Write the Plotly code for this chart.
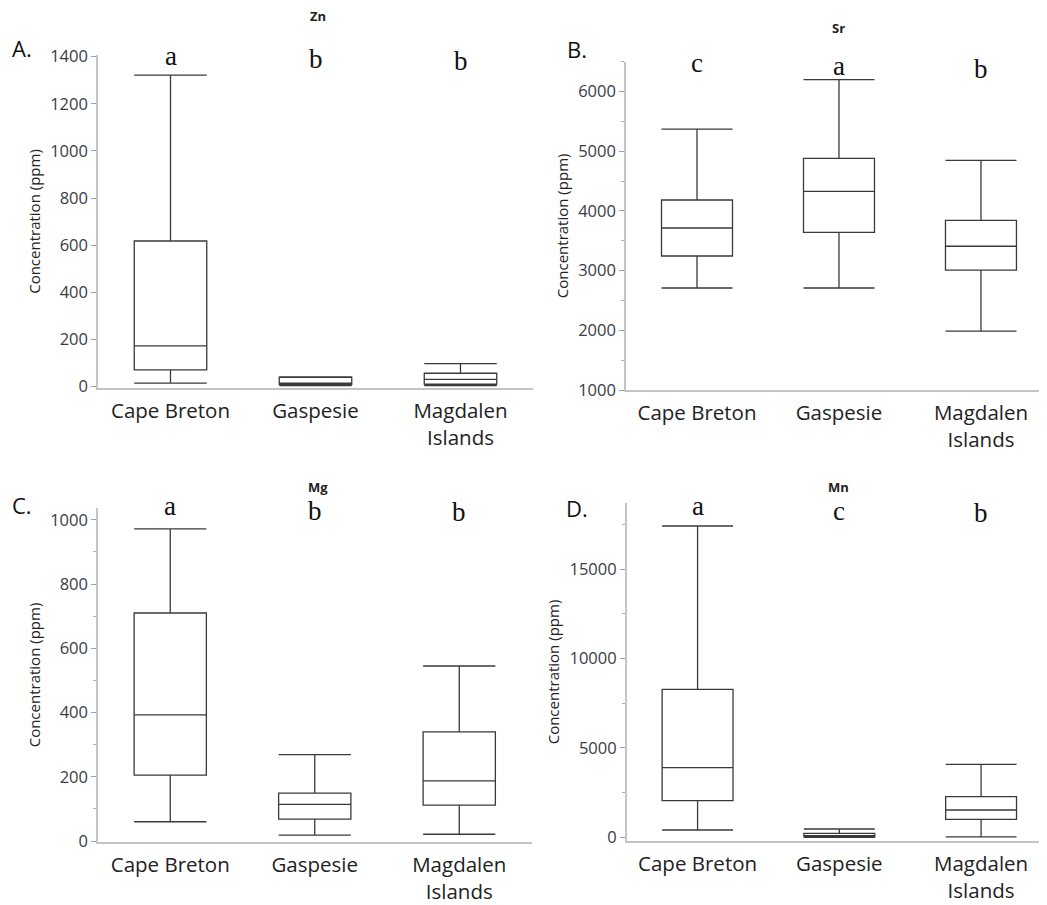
import plotly.graph_objects as go

# The page body adds an 8 px margin, so the figure is drawn 8 px smaller and
# positions are given in window pixels minus that offset.
OFF = 8
W, H = 1047 - OFF, 905 - OFF

categories = ["Cape Breton", "Gaspesie", "Magdalen Islands"]
tick_labels = ["Cape Breton", "Gaspesie", "Magdalen<br>Islands"]

# Zn
zn_min = [15, 5, 5]
zn_q1 = [71, 10, 11]
zn_med = [173, 15, 31]
zn_q3 = [618, 40, 57]
zn_max = [1322, 42, 98]
zn_letters = ["a", "b", "b"]

# Sr
sr_min = [2709, 2709, 1987]
sr_q1 = [3245, 3642, 3007]
sr_med = [3714, 4328, 3408]
sr_q3 = [4183, 4880, 3843]
sr_max = [5372, 6200, 4846]
sr_letters = ["c", "a", "b"]

# Mg
mg_min = [60, 18, 21]
mg_q1 = [205, 68, 112]
mg_med = [393, 114, 187]
mg_q3 = [710, 149, 340]
mg_max = [972, 269, 545]
mg_letters = ["a", "b", "b"]

# Mn
mn_min = [408, 0, 20]
mn_q1 = [2047, 30, 1007]
mn_med = [3893, 80, 1527]
mn_q3 = [8277, 220, 2271]
mn_max = [17410, 464, 4083]
mn_letters = ["a", "c", "b"]

def py(px):
    return 1 - (px - OFF) / H

def pxx(px):
    return (px - OFF) / W

panels = [
    dict(name="Zn", label="A.", mins=zn_min, q1=zn_q1, med=zn_med, q3=zn_q3, maxs=zn_max, letters=zn_letters,
         xdom=[pxx(98), pxx(533)], ydom=[py(388), py(55)], xr=[-0.5, 2.5], yr=[-5.5, 1407],
         dtick=200, minor=None, title_xy=(318, 16), label_xy=(22, 48), letter_y=[56, 59, 61]),
    dict(name="Sr", label="B.", mins=sr_min, q1=sr_q1, med=sr_med, q3=sr_q3, maxs=sr_max, letters=sr_letters,
         xdom=[pxx(626), 1.0], ydom=[py(390), py(61.7)], xr=[-0.5, 2.465], yr=[1000, 6500],
         dtick=1000, minor=500, title_xy=(838, 28), label_xy=(577, 49), letter_y=[63, 66, 69]),
    dict(name="Mg", label="C.", mins=mg_min, q1=mg_q1, med=mg_med, q3=mg_q3, maxs=mg_max, letters=mg_letters,
         xdom=[pxx(98), pxx(531.5)], ydom=[py(842), py(508)], xr=[-0.5, 2.5], yr=[-3.1, 1037],
         dtick=200, minor=100, title_xy=(318, 487), label_xy=(22, 505), letter_y=[506, 511, 512]),
    dict(name="Mn", label="D.", mins=mn_min, q1=mn_q1, med=mn_med, q3=mn_q3, maxs=mn_max, letters=mn_letters,
         xdom=[pxx(626.7), 1.0], ydom=[py(840.7), py(503.3)], xr=[-0.5, 2.465], yr=[-190, 18680],
         dtick=5000, minor=2500, title_xy=(838, 487), label_xy=(577, 508), letter_y=[506, 511, 513]),
]

fig = go.Figure()
annotations = []
layout = {}

tick_font = dict(family="Open Sans", size=16.5, color="#3b3b44")
axis_color = "#c4c4c4"

for i, p in enumerate(panels):
    n = "" if i == 0 else str(i + 1)
    xa, ya = "x" + n, "y" + n
    fig.add_trace(go.Box(
        x=categories, q1=p["q1"], median=p["med"], q3=p["q3"],
        lowerfence=p["mins"], upperfence=p["maxs"],
        width=0.5, whiskerwidth=1, boxpoints=False,
        line=dict(color="#3a3a3a", width=1.3), fillcolor="white",
        xaxis=xa, yaxis=ya, showlegend=False, name=p["name"],
    ))
    layout["xaxis" + n] = dict(
        domain=p["xdom"], anchor=ya, type="category", automargin=False,
        categoryorder="array", categoryarray=categories,
        tickvals=categories, ticktext=tick_labels,
        range=p["xr"], showline=True, linecolor=axis_color, linewidth=1.5,
        ticks="", showgrid=False, zeroline=False,
        tickfont=dict(family="Open Sans", size=20.5, color="#222222"),
        ticklabelstandoff=4,
    )
    yax = dict(
        domain=p["ydom"], anchor=xa, range=p["yr"], dtick=p["dtick"], tick0=0,
        automargin=False, tickformat="d",
        showline=True, linecolor=axis_color, linewidth=1.5,
        ticks="outside", ticklen=5, tickcolor="#a0a0a0", tickwidth=1,
        showgrid=False, zeroline=False, tickfont=tick_font,
        title=dict(text="Concentration (ppm)", font=dict(family="Open Sans", size=15, color="#222222"), standoff=6),
    )
    if p["minor"]:
        yax["minor"] = dict(dtick=p["minor"], tick0=0, ticks="outside", ticklen=3, tickcolor="#b0b0b0", showgrid=False)
    layout["yaxis" + n] = yax

    tx, ty = p["title_xy"]
    annotations.append(dict(text="<b>" + p["name"] + "</b>", x=pxx(tx), y=py(ty), xref="paper", yref="paper",
                            showarrow=False, font=dict(family="Open Sans", size=13, color="#222222"),
                            xanchor="center", yanchor="middle"))
    lx, ly = p["label_xy"]
    annotations.append(dict(text=p["label"], x=pxx(lx), y=py(ly), xref="paper", yref="paper",
                            showarrow=False, font=dict(family="Open Sans", size=22, color="#111111"),
                            xanchor="center", yanchor="middle"))
    for c, letter, ly2 in zip(categories, p["letters"], p["letter_y"]):
        annotations.append(dict(text=letter, x=c, y=py(ly2), xref=xa, yref="paper",
                                showarrow=False, font=dict(family="Liberation Serif", size=27, color="#111111"),
                                xanchor="center", yanchor="middle"))

fig.update_layout(
    width=W, height=H, margin=dict(l=0, r=0, t=0, b=0),
    paper_bgcolor="white", plot_bgcolor="white",
    annotations=annotations, **layout,
)

fig.write_html("out.html")
